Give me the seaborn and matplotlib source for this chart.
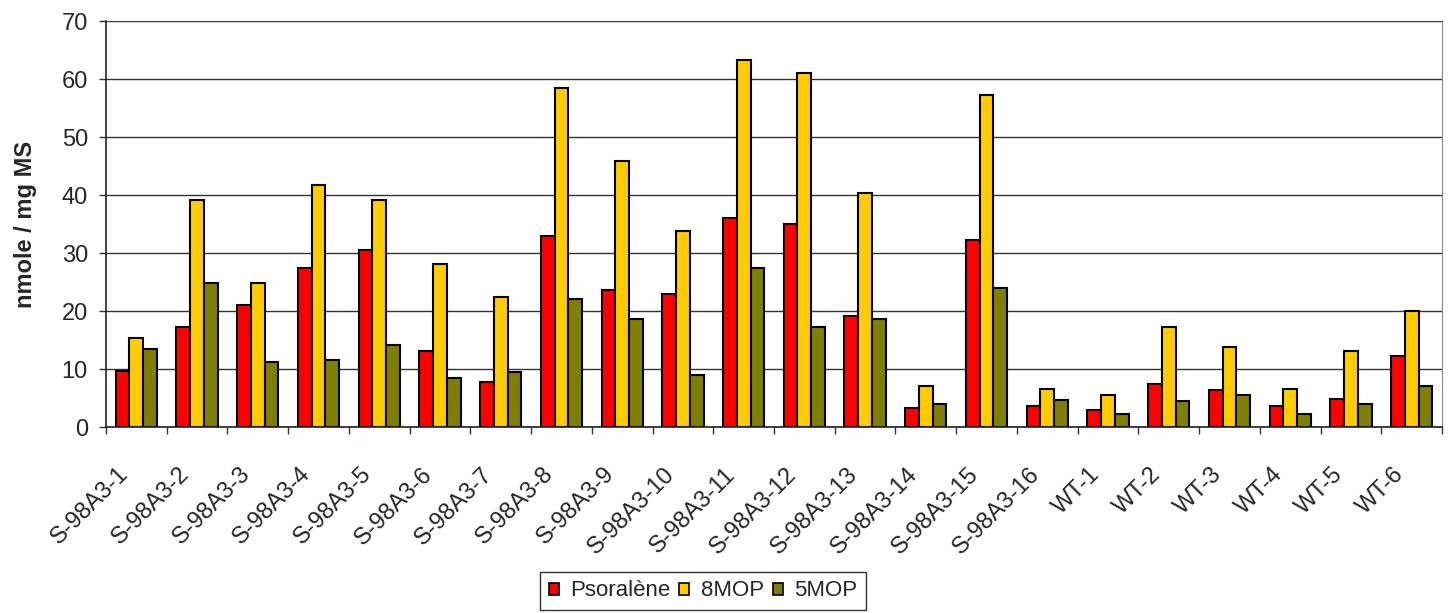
import numpy as np
import pandas as pd
import matplotlib
matplotlib.use("Agg")
import matplotlib.pyplot as plt
import matplotlib.transforms as mtransforms
import seaborn as sns
from matplotlib.ticker import FixedLocator

samples = [f"S-98A3-{i}" for i in range(1, 17)] + [f"WT-{i}" for i in range(1, 7)]
psoralene = [9.7, 17.2, 21.0, 27.4, 30.5, 13.1, 7.8, 33.0, 23.6, 22.9, 36.1,
             35.0, 19.2, 3.3, 32.3, 3.7, 2.9, 7.4, 6.3, 3.7, 4.8, 12.3]
mop8 = [15.4, 39.1, 24.8, 41.8, 39.1, 28.1, 22.5, 58.4, 45.9, 33.8, 63.2,
        61.0, 40.3, 7.1, 57.3, 6.6, 5.6, 17.3, 13.8, 6.6, 13.1, 20.0]
mop5 = [13.4, 24.8, 11.2, 11.6, 14.2, 8.5, 9.4, 22.1, 18.7, 9.0, 27.5,
        17.3, 18.7, 4.0, 24.0, 4.7, 2.2, 4.4, 5.5, 2.2, 4.0, 7.0]
series = ["Psoralène", "8MOP", "5MOP"]
colors = ["#ff0000", "#ffcc00", "#808000"]

df = pd.DataFrame({"sample": samples, "Psoralène": psoralene,
                   "8MOP": mop8, "5MOP": mop5})
long = df.melt(id_vars="sample", var_name="compound", value_name="value")

sns.set_style("white")
plt.rcParams["font.family"] = ["Liberation Sans", "DejaVu Sans"]

fig = plt.figure(figsize=(14.52, 6.13), dpi=100)
ax = fig.add_axes([106 / 1452, 1 - 427 / 613, (1442 - 106) / 1452, (427 - 21) / 613])

sns.barplot(data=long, x="sample", y="value", hue="compound", hue_order=series,
            palette=colors, width=0.68, edgecolor="black", linewidth=1.5,
            saturation=1, ax=ax, legend=False)

ax.set_ylim(0, 70)
ax.set_xlim(-0.5, len(samples) - 0.5)
ax.set_yticks(range(0, 71, 10))
ax.yaxis.grid(True, color="#333333", linewidth=1)
ax.set_axisbelow(True)
ax.tick_params(axis="y", labelsize=17, length=5, width=1, color="#333333", left=True, pad=8)
ax.tick_params(axis="x", which="major", length=0, labelsize=17, pad=26)
ax.xaxis.set_minor_locator(FixedLocator(np.arange(-0.5, len(samples), 1)))
ax.tick_params(axis="x", which="minor", length=5, width=1, color="#333333", bottom=True)
ax.set_xticks(range(len(samples)))
ax.set_xticklabels(samples, rotation=45, ha="right", rotation_mode="anchor")
shift = mtransforms.ScaledTranslation(-19 / 100, 0, fig.dpi_scale_trans)
for lbl in ax.get_xticklabels():
    lbl.set_transform(lbl.get_transform() + shift)
ax.set_xlabel("")
ax.set_ylabel("nmole / mg MS", fontsize=17, fontweight="bold", labelpad=18)

for side in ["left", "bottom"]:
    ax.spines[side].set_color("#222222")
    ax.spines[side].set_linewidth(1.2)
ax.spines["right"].set_color("#888888")
ax.spines["top"].set_color("#444444")

handles = [plt.Rectangle((0, 0), 1, 1, facecolor=c, edgecolor="black", linewidth=1.2)
           for c in colors]
leg = fig.legend(handles, series, loc="center", bbox_to_anchor=(703 / 1452, 1 - 591 / 613),
                 ncol=3, fontsize=16, frameon=True, fancybox=False, handlelength=0.45,
                 handleheight=0.45, handletextpad=0.5, columnspacing=0.4,
                 borderpad=0.4)
leg.get_frame().set_edgecolor("black")
leg.get_frame().set_linewidth(1)

fig.savefig("out.png", dpi=100)
